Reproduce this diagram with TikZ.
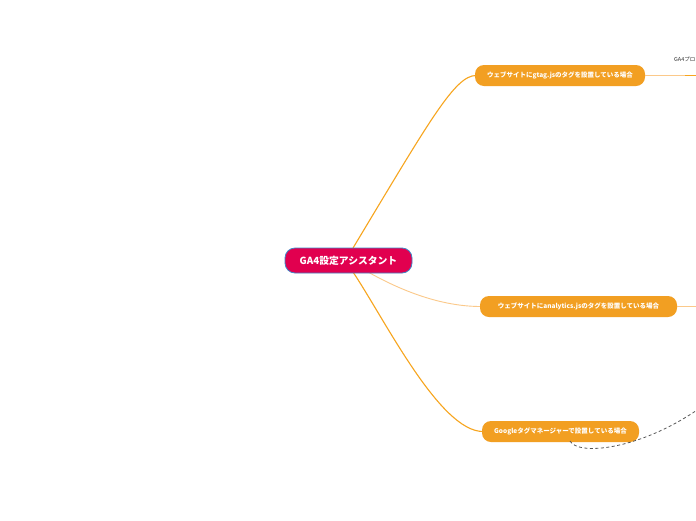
\documentclass[tikz,border=0pt]{standalone}
\usepackage{fontspec}
\newfontfamily\jp{Noto Sans CJK JP}
\definecolor{rootred}{HTML}{E1004F}
\definecolor{rootblue}{HTML}{3D85C6}
\definecolor{branch}{HTML}{F29F22}
\definecolor{linkor}{HTML}{F7A51E}
\definecolor{linklt}{HTML}{FBC98A}
\definecolor{dashgrey}{HTML}{555555}
\tikzset{
  rootbox/.style={draw=rootblue, line width=0.8pt, fill=rootred, rounded corners=10pt,
    minimum width=127pt, minimum height=25pt, inner sep=0pt,
    text=white, font=\jp\bfseries\fontsize{9.8}{11}\selectfont},
  branchbox/.style={fill=branch, rounded corners=9pt, minimum height=21pt, inner sep=0pt,
    text=white, font=\jp\bfseries\fontsize{6.5}{7}\selectfont},
  mainlink/.style={draw=linkor, line width=1.1pt},
  lightlink/.style={draw=linklt, line width=0.9pt},
  dashlink/.style={draw=dashgrey, line width=0.8pt, dash pattern=on 3pt off 2.5pt},
  smalltext/.style={text=black!80, font=\jp\fontsize{5.5}{6}\selectfont, inner sep=0pt, anchor=west}
}
\begin{document}
\begin{tikzpicture}[x=1pt,y=-1pt]
\useasboundingbox (0,0) rectangle (696,520);
\clip (0,0) rectangle (696,520);
\fill[white] (0,0) rectangle (696,520);

% connectors first (behind nodes)
\coordinate (r1) at (353,248);
\coordinate (r2) at (368,272);
\coordinate (r3) at (353,272);
\coordinate (b1w) at (476,75.5);
\coordinate (b2w) at (481,306.5);
\coordinate (b3w) at (483,431.5);

\draw[mainlink] (r1) .. controls (430,120) and (455,75.5) .. (b1w);
\draw[lightlink] (r2) .. controls (400,290) and (440,306.5) .. (b2w);
\draw[mainlink] (r3) .. controls (385,320) and (440,431.5) .. (b3w);

\coordinate (e1) at (700,75.5);
\coordinate (e1b) at (685,75.5);
\coordinate (e2) at (700,306.5);
\coordinate (d0) at (570,441);
\coordinate (d1) at (700,408);

\node[rootbox] (root) at (348.5,260.5) {GA4設定アシスタント};
\node[branchbox, minimum width=170pt] (b1) at (560,75.5) {ウェブサイトにgtag.jsのタグを設置している場合};
\node[branchbox, minimum width=197pt] (b2) at (578.5,306.5) {ウェブサイトにanalytics.jsのタグを設置している場合};
\node[branchbox, minimum width=157pt] (b3) at (560.5,431.5) {Googleタグマネージャーで設置している場合};

\draw[lightlink, line width=0.8pt] (b1.east) -- (e1);
\draw[draw=linkor, line width=1.6pt] (e1b) -- (e1);
\draw[lightlink, line width=0.6pt] (b2.east) -- (e2);
\draw[dashlink] (d0) .. controls (578,456) and (640,450) .. (d1);

\node[smalltext] (t1) at (674,59) {GA4プロ};
\end{tikzpicture}
\end{document}
